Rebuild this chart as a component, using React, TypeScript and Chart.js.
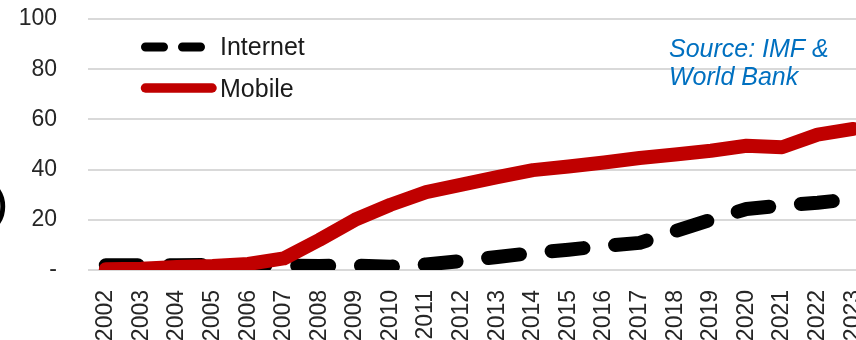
import React, { useEffect, useRef } from "react";
import { Chart, registerables } from "chart.js";

Chart.register(...registerables);

const years = [
  "2002", "2003", "2004", "2005", "2006", "2007", "2008", "2009", "2010", "2011", "2012",
  "2013", "2014", "2015", "2016", "2017", "2018", "2019", "2020", "2021", "2022", "2023",
];
const internetValues = [
  1.9, 1.9, 1.9, 2.0, 2.0, 1.8, 1.6, 1.8, 1.3, 2.2, 3.6,
  5.2, 6.8, 8.1, 9.6, 10.8, 15.5, 20.0, 24.3, 25.7, 26.8, 28.3,
];
const mobileValues = [
  0.3, 0.5, 1.2, 1.6, 2.4, 4.6, 12.0, 20.0, 26.0, 31.0, 34.0,
  37.0, 39.8, 41.2, 42.8, 44.6, 46.0, 47.5, 49.5, 48.9, 53.9, 56.2,
];
const yTickLabels = ["-", "20", "40", "60", "80", "100"];
const legendLabels = ["Internet", "Mobile"];
const sourceLines = ["Source: IMF &", "World Bank"];
const axisTitleFragment = ")";

const FONT = "'Liberation Sans', Arial, sans-serif";
const RED = "#C00000";
const BLUE = "#0070C0";

const zeroPadding = (s: any) => {
  s.paddingTop = 0;
  s.paddingBottom = 0;
  s.paddingLeft = 0;
  s.paddingRight = 0;
};

export default function App() {
  const ref = useRef<HTMLCanvasElement>(null);

  useEffect(() => {
    const overlay = {
      id: "overlay",
      afterDraw(chart: any) {
        const ctx: CanvasRenderingContext2D = chart.ctx;
        ctx.save();
        // legend: Internet (dashed)
        ctx.lineCap = "round";
        ctx.strokeStyle = "#000";
        ctx.lineWidth = 9;
        ctx.setLineDash([18, 19]);
        ctx.beginPath();
        ctx.moveTo(145.5, 47);
        ctx.lineTo(201.5, 47);
        ctx.stroke();
        // legend: Mobile (solid)
        ctx.setLineDash([]);
        ctx.strokeStyle = RED;
        ctx.lineWidth = 9.5;
        ctx.beginPath();
        ctx.moveTo(145.5, 88);
        ctx.lineTo(212, 88);
        ctx.stroke();
        // legend texts
        ctx.fillStyle = "#1a1a1a";
        ctx.font = `25px ${FONT}`;
        ctx.textAlign = "left";
        ctx.textBaseline = "alphabetic";
        ctx.fillText(legendLabels[0], 220, 55);
        ctx.fillText(legendLabels[1], 220, 97);
        // source text
        ctx.fillStyle = BLUE;
        ctx.font = `italic 25px ${FONT}`;
        ctx.fillText(sourceLines[0], 669, 57);
        ctx.fillText(sourceLines[1], 669, 85);
        // clipped axis title fragment at left edge
        ctx.fillStyle = "#000";
        ctx.font = `bold 36px ${FONT}`;
        ctx.textAlign = "right";
        ctx.fillText(axisTitleFragment, 7, 216);
        ctx.restore();
      },
    };

    const chart = new Chart(ref.current as HTMLCanvasElement, {
      type: "line",
      data: {
        labels: years,
        datasets: [
          {
            label: legendLabels[0],
            data: internetValues,
            borderColor: "#000",
            backgroundColor: "#000",
            borderWidth: 14,
            borderDash: [32, 31.8],
            borderCapStyle: "round",
            borderJoinStyle: "round",
            pointRadius: 0,
            tension: 0,
            fill: false,
            clip: 0,
            order: 2,
          },
          {
            label: legendLabels[1],
            data: mobileValues,
            borderColor: RED,
            backgroundColor: RED,
            borderWidth: 14,
            borderCapStyle: "round",
            borderJoinStyle: "round",
            pointRadius: 0,
            tension: 0,
            fill: false,
            clip: 0,
            order: 1,
          },
        ],
      },
      options: {
        responsive: false,
        animation: false,
        events: [],
        layout: { padding: { top: 19, right: 9, left: 0, bottom: 0 } },
        plugins: { legend: { display: false }, tooltip: { enabled: false } },
        scales: {
          x: {
            offset: true,
            grid: { display: false },
            border: { display: false },
            ticks: {
              autoSkip: false,
              minRotation: 90,
              maxRotation: 90,
              padding: 12,
              color: "#262626",
              font: { family: FONT, size: 23 },
            },
            afterFit: (s: any) => {
              s.height = 70;
              zeroPadding(s);
            },
          },
          y: {
            min: 0,
            max: 100,
            grid: { color: "#d9d9d9", lineWidth: 2, drawTicks: false },
            border: { display: false },
            ticks: {
              stepSize: 20,
              padding: 31,
              color: "#262626",
              font: { family: FONT, size: 23 },
              callback: (_v: any, i: number) => yTickLabels[i],
            },
            afterFit: (s: any) => {
              s.width = 88;
              zeroPadding(s);
            },
          },
        },
      },
      plugins: [overlay],
    } as any);
    return () => chart.destroy();
  }, []);

  return (
    <div
      style={{
        position: "fixed",
        left: 0,
        top: 0,
        width: 856,
        height: 340,
        overflow: "hidden",
        background: "#fff",
      }}
    >
      <canvas
        ref={ref}
        width={880}
        height={340}
        style={{ display: "block", width: 880, height: 340 }}
      />
    </div>
  );
}
